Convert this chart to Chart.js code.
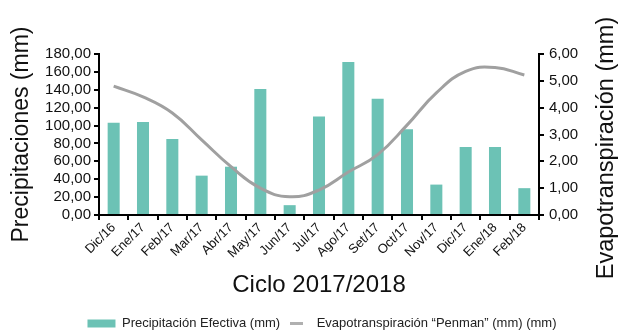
<!DOCTYPE html>
<html>
<head>
<meta charset="utf-8">
<script src="https://cdn.jsdelivr.net/npm/chart.js@4/dist/chart.umd.min.js"></script>
<style>
  html, body { margin: 0; padding: 0; background: #fff; }
  #wrap { position: relative; width: 619px; height: 331px; }
</style>
</head>
<body>
<div id="wrap"><canvas id="chart"></canvas></div>
<script>
// Meses del ciclo
const meses = ["Dic/16", "Ene/17", "Feb/17", "Mar/17", "Abr/17", "May/17", "Jun/17", "Jul/17",
               "Ago/17", "Set/17", "Oct/17", "Nov/17", "Dic/17", "Ene/18", "Feb/18"];

// Precipitación efectiva (mm), eje izquierdo
const precipitacion = [103, 104, 85, 44, 54, 141, 11, 110, 171, 130, 96, 34, 76, 76, 30];

// Evapotranspiración Penman (mm), eje derecho
const evapotranspiracion = [4.8, 4.4, 3.8, 2.8, 1.8, 1.0, 0.68, 0.93, 1.6, 2.25, 3.35, 4.55, 5.35, 5.5, 5.22];

const tituloDerecho = "Evapotranspiración (mm)";

const fmt = v => Number(v).toFixed(2).replace(".", ",");
const FONT = "'Liberation Sans', Arial, sans-serif";
const GRIS = "#a0a0a0";

const axisBorder = { display: true, color: "#000", width: 2 };
const tickGrid = { display: true, drawOnChartArea: false, color: "#000", lineWidth: 2, tickLength: 5 };

// short grey stroke used as the legend symbol of the line
const lineaLeyenda = document.createElement("canvas");
lineaLeyenda.width = 13;
lineaLeyenda.height = 3;
{
    const c = lineaLeyenda.getContext("2d");
    c.fillStyle = "#b0b0b0";
    c.fillRect(0, 0, 13, 3);
}

// the right axis title sits a bit lower than the axis centre, so draw it by hand
const rightTitle = {
    id: "rightTitle",
    afterDraw(chart) {
        const ctx = chart.ctx;
        ctx.save();
        ctx.translate(chart.width - 12, 148);
        ctx.rotate(-Math.PI / 2);
        ctx.font = "23.5px " + FONT;
        ctx.fillStyle = "#111";
        ctx.textAlign = "center";
        ctx.textBaseline = "middle";
        ctx.fillText(tituloDerecho, 0, 0);
        ctx.restore();
    }
};

new Chart(document.getElementById("chart"), {
    type: "bar",
    data: {
        labels: meses,
        datasets: [
            {
                label: "Precipitación Efectiva (mm)",
                data: precipitacion,
                backgroundColor: "#6cc2b5",
                borderWidth: 0,
                barPercentage: 0.41,
                categoryPercentage: 1,
                pointStyle: "rect",
                yAxisID: "y",
                order: 2
            },
            {
                type: "line",
                label: "Evapotranspiración \u201cPenman\u201d (mm) (mm)",
                data: evapotranspiracion,
                borderColor: GRIS,
                backgroundColor: GRIS,
                borderWidth: 3,
                pointRadius: 0,
                pointStyle: lineaLeyenda,
                tension: 0.45,
                yAxisID: "y1",
                order: 1
            }
        ]
    },
    options: {
        responsive: true,
        maintainAspectRatio: false,
        animation: false,
        // negative padding nudges the legend down and to the right
        layout: { padding: { top: 54, right: -17, left: 8, bottom: -9 } },
        plugins: {
            legend: {
                position: "bottom",
                labels: {
                    usePointStyle: true,
                    pointStyleWidth: 28,
                    boxHeight: 8,
                    color: "#222",
                    padding: 2,
                    font: { family: FONT, size: 13 },
                    sort: (a, b) => a.datasetIndex - b.datasetIndex
                }
            },
            tooltip: { enabled: false }
        },
        scales: {
            x: {
                offset: true,
                border: axisBorder,
                grid: { ...tickGrid, offset: true },
                ticks: {
                    color: "#111",
                    maxRotation: 45,
                    minRotation: 45,
                    autoSkip: false,
                    padding: 0,
                    font: { family: FONT, size: 13 }
                },
                title: {
                    display: true,
                    text: "Ciclo 2017/2018",
                    color: "#111",
                    font: { family: FONT, size: 24 },
                    padding: { top: 8, bottom: 15 }
                },
                afterFit: s => { s.height = 100; }
            },
            y: {
                position: "left",
                min: 0,
                max: 180,
                border: axisBorder,
                grid: tickGrid,
                ticks: {
                    stepSize: 20,
                    autoSkip: false,
                    color: "#111",
                    padding: 3,
                    font: { family: FONT, size: 15 },
                    callback: v => fmt(v)
                },
                title: {
                    display: true,
                    text: "Precipitaciones (mm)",
                    color: "#111",
                    font: { family: FONT, size: 23 },
                    padding: { top: 0, bottom: 2 }
                },
                afterFit: s => { s.width = 91; }
            },
            y1: {
                position: "right",
                min: 0,
                max: 6,
                border: axisBorder,
                grid: tickGrid,
                ticks: {
                    stepSize: 1,
                    autoSkip: false,
                    color: "#111",
                    padding: 5,
                    font: { family: FONT, size: 15 },
                    callback: v => fmt(v)
                },
                afterFit: s => { s.width = 97; }
            }
        }
    },
    plugins: [rightTitle]
});
</script>
</body>
</html>
